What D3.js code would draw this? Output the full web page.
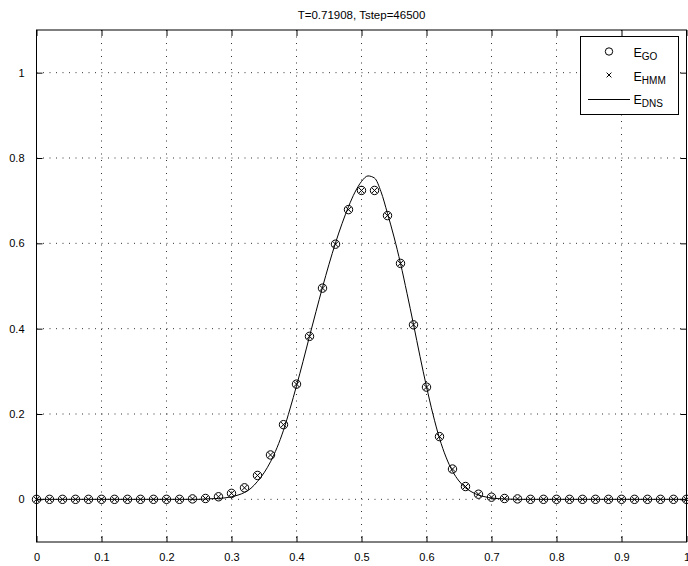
<!DOCTYPE html>
<html>
<head>
<meta charset="utf-8">
<script src="https://cdn.jsdelivr.net/npm/d3@7"></script>
<style>
  body { margin: 0; background: #fff; }
  svg { display: block; font-family: "Liberation Sans", Arial, sans-serif; }
</style>
</head>
<body>
<div id="chart"></div>
<script>
// sample positions of the GO / HMM markers
const xSamples = [0, 0.02, 0.04, 0.06, 0.08, 0.1, 0.12, 0.14, 0.16, 0.18, 0.2, 0.22, 0.24, 0.26, 0.28,
  0.3, 0.32, 0.34, 0.36, 0.38, 0.4, 0.42, 0.44, 0.46, 0.48, 0.5, 0.52, 0.54, 0.56, 0.58, 0.6,
  0.62, 0.64, 0.66, 0.68, 0.7, 0.72, 0.74, 0.76, 0.78, 0.8, 0.82, 0.84, 0.86, 0.88, 0.9, 0.92,
  0.94, 0.96, 0.98, 1];
const eGO = [0, 0, 0, 0, 0, 0, 0, 0, 0, 0, 0, 0, 0.001, 0.002, 0.006,
  0.014, 0.027, 0.056, 0.104, 0.175, 0.270, 0.382, 0.495, 0.598, 0.679, 0.724, 0.724, 0.665, 0.553, 0.409, 0.263,
  0.147, 0.071, 0.030, 0.012, 0.005, 0.002, 0.001, 0, 0, 0, 0, 0, 0, 0, 0, 0,
  0, 0, 0, 0];
const eHMM = [0, 0, 0, 0, 0, 0, 0, 0, 0, 0, 0, 0, 0.001, 0.002, 0.006,
  0.014, 0.027, 0.056, 0.104, 0.175, 0.270, 0.382, 0.495, 0.598, 0.679, 0.724, 0.724, 0.665, 0.553, 0.409, 0.263,
  0.147, 0.071, 0.030, 0.012, 0.005, 0.002, 0.001, 0, 0, 0, 0, 0, 0, 0, 0, 0,
  0, 0, 0, 0];

// reference DNS curve
const xDNS = [0, 0.2, 0.25, 0.26, 0.28, 0.3, 0.31, 0.32, 0.33, 0.34, 0.35, 0.36, 0.37, 0.38, 0.39,
  0.4, 0.41, 0.42, 0.43, 0.44, 0.45, 0.46, 0.47, 0.48, 0.49, 0.5, 0.51, 0.52, 0.53, 0.54,
  0.55, 0.56, 0.57, 0.58, 0.59, 0.6, 0.61, 0.62, 0.63, 0.64, 0.65, 0.66, 0.67, 0.68, 0.69,
  0.7, 0.72, 0.74, 0.8, 1];
const eDNS = [0, 0, 0, 0.001, 0.002, 0.006, 0.010, 0.016, 0.026, 0.042, 0.062, 0.088, 0.121, 0.162, 0.212,
  0.266, 0.323, 0.382, 0.440, 0.497, 0.551, 0.601, 0.646, 0.686, 0.720, 0.745, 0.758, 0.753, 0.721, 0.670,
  0.615, 0.553, 0.483, 0.410, 0.335, 0.264, 0.199, 0.143, 0.099, 0.066, 0.043, 0.027, 0.017, 0.010, 0.006,
  0.003, 0.001, 0, 0, 0];

const xTicks = [0, 0.1, 0.2, 0.3, 0.4, 0.5, 0.6, 0.7, 0.8, 0.9, 1];
const yTicks = [0, 0.2, 0.4, 0.6, 0.8, 1];
const titleText = "T=0.71908, Tstep=46500";

const W = 688, H = 566;
const margin = { top: 30, right: 1.5, bottom: 24, left: 36.5 };
const iw = W - margin.left - margin.right;
const ih = H - margin.top - margin.bottom;

const svg = d3.select("#chart").append("svg")
  .attr("width", W).attr("height", H);

const g = svg.append("g").attr("transform", `translate(${margin.left},${margin.top})`);

const x = d3.scaleLinear().domain([0, 1]).range([0, iw]);
const y = d3.scaleLinear().domain([-0.1, 1.1]).range([ih, 0]);

// grid
g.append("g").selectAll("line")
  .data(xTicks.filter(d => d > 0 && d < 1))
  .enter().append("line")
  .attr("x1", d => x(d)).attr("x2", d => x(d))
  .attr("y1", 0).attr("y2", ih)
  .attr("stroke", "#333").attr("stroke-width", 1)
  .attr("stroke-dasharray", "1,5.5");
g.append("g").selectAll("line")
  .data(yTicks)
  .enter().append("line")
  .attr("x1", 0).attr("x2", iw)
  .attr("y1", d => y(d)).attr("y2", d => y(d))
  .attr("stroke", "#333").attr("stroke-width", 1)
  .attr("stroke-dasharray", "1,5.5");

// axes (ticks inward on all four sides)
const tl = 6;
const fmt = d => d3.format("~g")(d);
const axB = g.append("g").attr("transform", `translate(0,${ih})`)
  .call(d3.axisBottom(x).tickValues(xTicks).tickFormat(fmt).tickSizeInner(-tl).tickSizeOuter(0).tickPadding(11));
const axT = g.append("g")
  .call(d3.axisTop(x).tickValues(xTicks).tickFormat("").tickSizeInner(-tl).tickSizeOuter(0));
const axL = g.append("g")
  .call(d3.axisLeft(y).tickValues(yTicks).tickFormat(fmt).tickSizeInner(-tl).tickSizeOuter(0).tickPadding(12));
const axR = g.append("g").attr("transform", `translate(${iw},0)`)
  .call(d3.axisRight(y).tickValues(yTicks).tickFormat("").tickSizeInner(-tl).tickSizeOuter(0));
[axB, axT, axL, axR].forEach(a => {
  a.select(".domain").remove();
  a.selectAll("line").attr("stroke", "#000");
  a.selectAll("text").attr("font-size", 11).attr("fill", "#000")
    .attr("font-family", "'Liberation Sans', Arial, sans-serif");
});

// frame
g.append("rect").attr("x", 0).attr("y", 0).attr("width", iw).attr("height", ih)
  .attr("fill", "none").attr("stroke", "#000").attr("stroke-width", 1);

// DNS line
const dnsData = xDNS.map((d, i) => [d, eDNS[i]]);
g.append("path").datum(dnsData)
  .attr("fill", "none").attr("stroke", "#000").attr("stroke-width", 1)
  .attr("d", d3.line().x(d => x(d[0])).y(d => y(d[1])).curve(d3.curveMonotoneX));

// GO markers (circles)
g.append("g").selectAll("circle")
  .data(xSamples.map((d, i) => [d, eGO[i]]))
  .enter().append("circle")
  .attr("cx", d => x(d[0])).attr("cy", d => y(d[1])).attr("r", 4.2)
  .attr("fill", "none").attr("stroke", "#000").attr("stroke-width", 1);

// HMM markers (crosses)
const cs = 2.8;
g.append("g").selectAll("path")
  .data(xSamples.map((d, i) => [d, eHMM[i]]))
  .enter().append("path")
  .attr("d", d => {
    const px = x(d[0]), py = y(d[1]);
    return `M${px - cs},${py - cs}L${px + cs},${py + cs}M${px - cs},${py + cs}L${px + cs},${py - cs}`;
  })
  .attr("fill", "none").attr("stroke", "#000").attr("stroke-width", 1);

// title
svg.append("text")
  .attr("x", margin.left + iw / 2).attr("y", 19)
  .attr("text-anchor", "middle").attr("font-size", 11.5).attr("fill", "#000")
  .text(titleText);

// legend
const lg = svg.append("g").attr("transform", "translate(580.5,36.5)");
lg.append("rect").attr("width", 98).attr("height", 78)
  .attr("fill", "#fff").attr("stroke", "#000").attr("stroke-width", 1);
lg.append("circle").attr("cx", 28.5).attr("cy", 15).attr("r", 3.7)
  .attr("fill", "none").attr("stroke", "#000");
lg.append("path")
  .attr("d", `M${28.5 - 2.4},${38.5 - 2.4}L${28.5 + 2.4},${38.5 + 2.4}M${28.5 - 2.4},${38.5 + 2.4}L${28.5 + 2.4},${38.5 - 2.4}`)
  .attr("stroke", "#000").attr("fill", "none");
lg.append("line").attr("x1", 7.5).attr("x2", 49.5).attr("y1", 63).attr("y2", 63)
  .attr("stroke", "#000");

const labels = [["GO", 20], ["HMM", 44], ["DNS", 67]];
labels.forEach(([sub, by]) => {
  const t = lg.append("text").attr("x", 53).attr("y", by).attr("font-size", 12.5).attr("fill", "#000");
  t.append("tspan").text("E");
  t.append("tspan").attr("dy", 3.5).attr("font-size", 10).text(sub);
});
</script>
</body>
</html>
